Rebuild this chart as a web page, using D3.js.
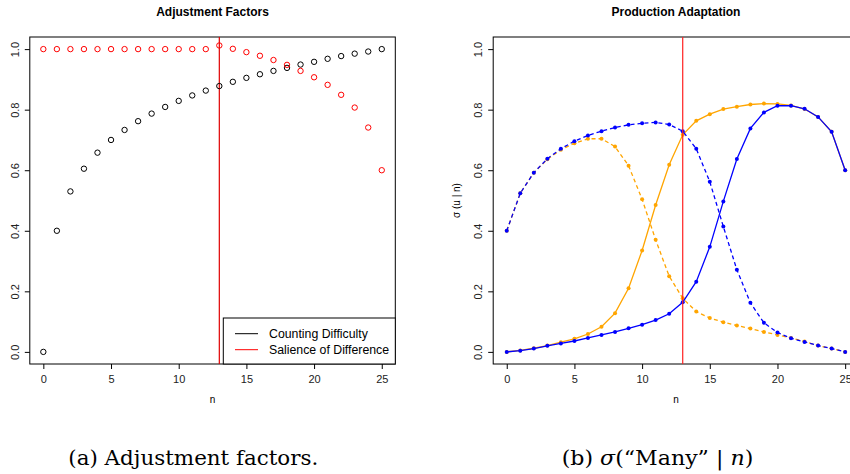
<!DOCTYPE html>
<html lang="en">
<head>
<meta charset="UTF-8">
<title>Adjustment factors / Production adaptation</title>
<style>
    body { margin: 0; background: #fff; }
    svg { display: block; }
    .tick text { font: 11px 'Liberation Sans', Arial, sans-serif; fill: #222; }
    .ttl { font: bold 12px 'Liberation Sans', Arial, sans-serif; }
    .lbl { font: 10px 'Liberation Sans', Arial, sans-serif; }
    .cap { font: 20px 'DejaVu Serif', 'Liberation Serif', serif; }
</style>
</head>
<body>
<div id="chart"></div>
<script src="https://cdnjs.cloudflare.com/ajax/libs/d3/7.8.5/d3.min.js"></script>
<script>
// n = 0..25
const nValues = [0,1,2,3,4,5,6,7,8,9,10,11,12,13,14,15,16,17,18,19,20,21,22,23,24,25];

// left panel: adjustment factors
const countingDifficulty = [0, 0.4, 0.53, 0.605, 0.658, 0.7, 0.733, 0.762, 0.787, 0.809, 0.829, 0.847, 0.863,
    0.878, 0.892, 0.905, 0.917, 0.928, 0.938, 0.949, 0.958, 0.968, 0.977, 0.985, 0.992, 1.0];
const salienceOfDifference = [1, 1, 1, 1, 1, 1, 1, 1, 1, 1, 1, 1, 1,
    1.012, 1.001, 0.99, 0.978, 0.964, 0.948, 0.928, 0.907, 0.882, 0.849, 0.807, 0.741, 0.6];

// right panel: sigma(u | n)
const orangeSolid = [0, 0.005, 0.012, 0.021, 0.032, 0.043, 0.059, 0.083, 0.128, 0.21, 0.335, 0.485, 0.618,
    0.717, 0.763, 0.785, 0.802, 0.81, 0.817, 0.82, 0.819, 0.814, 0.802, 0.776, 0.727, 0.6];
const orangeDashed = [0.4, 0.524, 0.592, 0.636, 0.668, 0.689, 0.704, 0.704, 0.678, 0.615, 0.504, 0.37, 0.25,
    0.177, 0.133, 0.112, 0.098, 0.087, 0.077, 0.066, 0.056, 0.046, 0.034, 0.021, 0.011, 0];
const blueSolid = [0, 0.004, 0.011, 0.02, 0.028, 0.036, 0.046, 0.056, 0.066, 0.078, 0.09, 0.105, 0.126,
    0.164, 0.232, 0.347, 0.497, 0.637, 0.738, 0.791, 0.813, 0.813, 0.803, 0.776, 0.727, 0.6];
const blueDashed = [0.4, 0.524, 0.592, 0.638, 0.671, 0.696, 0.715, 0.729, 0.741, 0.75, 0.755, 0.758, 0.751,
    0.729, 0.671, 0.562, 0.414, 0.271, 0.162, 0.096, 0.064, 0.045, 0.033, 0.021, 0.011, 0];

const xTicks = [0, 5, 10, 15, 20, 25];
const yTicks = [0, 0.2, 0.4, 0.6, 0.8, 1.0];
const threshold = 13;
const legendLabels = ["Counting Difficulty", "Salience of Difference"];

const W = 850, H = 474;
const svg = d3.select("#chart").append("svg").attr("width", W).attr("height", H);

function makePanel(left, title, ylab) {
    const x = d3.scaleLinear().domain([-1, 26]).range([left, left + 365.5]);
    const y = d3.scaleLinear().domain([-0.04, 1.04]).range([364, 37]);
    const g = svg.append("g");

    g.append("g")
        .attr("transform", "translate(0,364)")
        .call(d3.axisBottom(x).tickValues(xTicks).tickSize(5).tickPadding(6).tickFormat(d3.format("d")))
        .call(s => s.select(".domain").remove());

    const ya = g.append("g")
        .attr("transform", `translate(${left},0)`)
        .call(d3.axisLeft(y).tickValues(yTicks).tickSize(5).tickFormat(d3.format(".1f")))
        .call(s => s.select(".domain").remove());
    ya.selectAll(".tick text")
        .attr("x", 0).attr("dy", 0)
        .attr("transform", `translate(${-15},0) rotate(-90)`)
        .attr("text-anchor", "middle")
        .attr("dominant-baseline", "central");

    g.append("rect")
        .attr("x", x(-1)).attr("y", y(1.04))
        .attr("width", x(26) - x(-1)).attr("height", y(-0.04) - y(1.04))
        .attr("fill", "none").attr("stroke", "#000").attr("stroke-width", 1);

    const cx = (x(-1) + x(26)) / 2;
    g.append("text").attr("class", "ttl")
        .attr("x", cx).attr("y", 16).attr("text-anchor", "middle").text(title);
    g.append("text").attr("class", "lbl")
        .attr("x", cx).attr("y", 403).attr("text-anchor", "middle").text("n");
    if (ylab) {
        g.append("text").attr("class", "lbl")
            .attr("transform", `translate(${left - 33},${(y(1.04) + y(-0.04)) / 2}) rotate(-90)`)
            .attr("text-anchor", "middle").text(ylab);
    }
    return {g, x, y};
}

// ---- left panel ----
const a = makePanel(29.8, "Adjustment Factors", null);

a.g.append("line")
    .attr("x1", a.x(threshold)).attr("x2", a.x(threshold))
    .attr("y1", a.y(1.04)).attr("y2", a.y(-0.04))
    .attr("stroke", "#e00000").attr("stroke-width", 1.2);

[[countingDifficulty, "#000"], [salienceOfDifference, "#ff0000"]].forEach(([vals, col]) => {
    a.g.selectAll(null)
        .data(vals)
        .join("circle")
        .attr("cx", (d, i) => a.x(nValues[i]))
        .attr("cy", d => a.y(d))
        .attr("r", 2.7)
        .attr("fill", "none")
        .attr("stroke", col)
        .attr("stroke-width", 1);
});

// legend
const lg = a.g.append("g");
lg.append("rect")
    .attr("x", 223.3).attr("y", 318)
    .attr("width", a.x(26) - 223.3).attr("height", a.y(-0.04) - 318)
    .attr("fill", "#fff").attr("stroke", "#000").attr("stroke-width", 1);
legendLabels.forEach((t, i) => {
    const yy = 333.7 + i * 16;
    lg.append("line").attr("x1", 235).attr("x2", 258).attr("y1", yy).attr("y2", yy)
        .attr("stroke", i === 0 ? "#000" : "#ff0000").attr("stroke-width", 1);
    lg.append("text").attr("class", "lbl").attr("x", 269).attr("y", yy)
        .attr("dominant-baseline", "central").style("font-size", "12.3px").text(t);
});

// ---- right panel ----
const b = makePanel(493.2, "Production Adaptation", "\u03c3 (u | n)");

const series = [
    {vals: orangeSolid, col: "#ffa500", dash: null},
    {vals: orangeDashed, col: "#ffa500", dash: "4,3"},
    {vals: blueSolid, col: "#0000ff", dash: null},
    {vals: blueDashed, col: "#0000ff", dash: "4,3"}
];
const line = d3.line().x((d, i) => b.x(nValues[i])).y(d => b.y(d));
series.forEach(s => {
    b.g.append("path")
        .attr("d", line(s.vals))
        .attr("fill", "none")
        .attr("stroke", s.col)
        .attr("stroke-width", 1.3)
        .attr("stroke-dasharray", s.dash);
    b.g.selectAll(null)
        .data(s.vals)
        .join("circle")
        .attr("cx", (d, i) => b.x(nValues[i]))
        .attr("cy", d => b.y(d))
        .attr("r", 2)
        .attr("fill", s.col);
});

b.g.append("line")
    .attr("x1", b.x(threshold)).attr("x2", b.x(threshold))
    .attr("y1", b.y(1.04)).attr("y2", b.y(-0.04))
    .attr("stroke", "#ff2020").attr("stroke-width", 1.2);

// captions
svg.append("text").attr("class", "cap")
    .attr("x", 68.3).attr("y", 465)
    .attr("textLength", 250).attr("lengthAdjust", "spacingAndGlyphs")
    .text("(a) Adjustment factors.");

const capB = svg.append("text").attr("class", "cap")
    .attr("x", 561.7).attr("y", 465)
    .attr("textLength", 191.6).attr("lengthAdjust", "spacingAndGlyphs");
capB.append("tspan").text("(b) ");
capB.append("tspan").style("font-style", "italic").text("\u03c3");
capB.append("tspan").text("(\u201cMany\u201d | ");
capB.append("tspan").style("font-style", "italic").text("n");
capB.append("tspan").text(")");
</script>
</body>
</html>
